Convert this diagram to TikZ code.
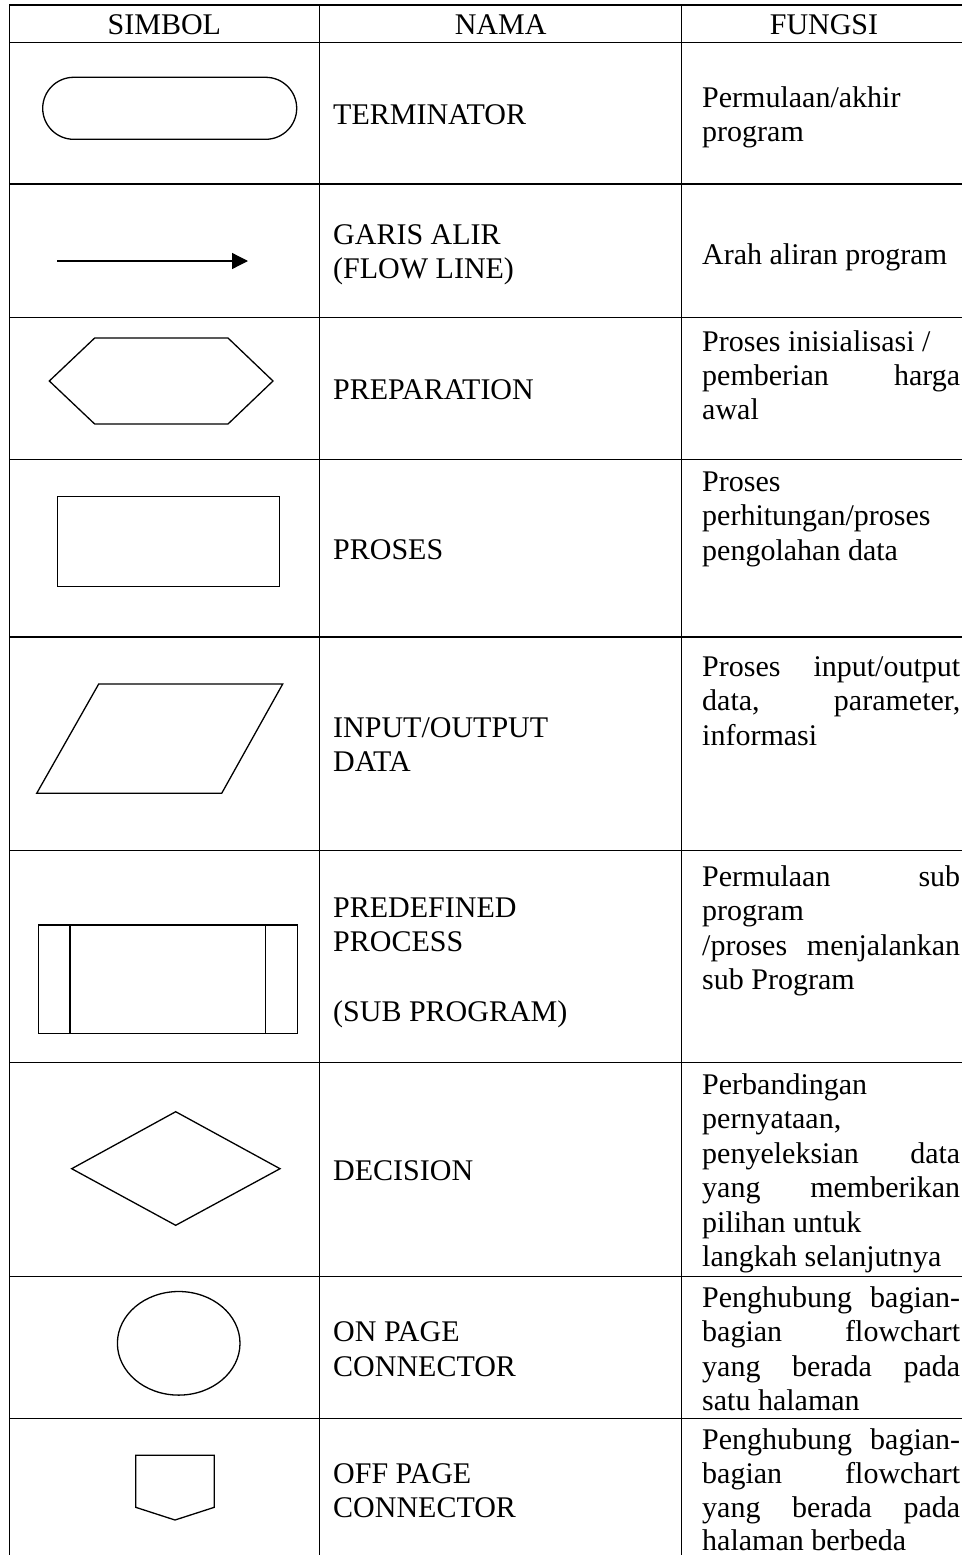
\documentclass[tikz,border=0pt]{standalone}
\usepackage{fontspec}
\setmainfont{Liberation Serif}
\usetikzlibrary{arrows.meta}
\newcommand{\jus}[1]{\makebox[258pt][s]{#1}}
\begin{document}
\begin{tikzpicture}[x=1pt,y=-1pt,
  grid/.style={line width=1.2pt},
  shp/.style={line width=1.3pt},
  txt/.style={font=\fontsize{30}{34.5}\selectfont, inner sep=0pt, anchor=base west},
  hdr/.style={font=\fontsize{30}{34.5}\selectfont, inner sep=0pt, anchor=base}]
\useasboundingbox (0,0) rectangle (962,1555);
% table grid
\foreach \yy in {5,42.3,184,317.3,459.3,637,850.5,1062.5,1276.5,1418.5}
  \draw[grid] (9.3,\yy) -- (962,\yy);
\foreach \xx in {9.3,319.5,681.7}
  \draw[grid] (\xx,5) -- (\xx,1555);
% headers
\node[hdr] (h1) at (164.4,34.3) {SIMBOL};
\node[hdr] (h2) at (500.6,34.3) {NAMA};
\node[hdr] (h3) at (824,34.3) {FUNGSI};
% symbols
\draw[shp, rounded corners=31pt] (42.7,77.3) rectangle (296.7,139.3);
\coordinate (a1) at (57,261);
\coordinate (a2) at (248,261);
\draw[shp, -{Triangle[length=16pt,width=16pt]}] (a1) -- (a2);
\draw[shp] (49.3,381) -- (94.7,338) -- (228,338) -- (273,381) -- (228,424) -- (94.7,424) -- cycle;
\draw[shp] (57.3,496.7) rectangle (279.3,586.7);
\draw[shp] (98.7,684) -- (282.7,684) -- (221.7,793.3) -- (36.7,793.3) -- cycle;
\draw[shp] (38.7,925) rectangle (297.3,1033.3);
\draw[shp] (70,925) -- (70,1033.3);
\draw[shp] (265.7,925) -- (265.7,1033.3);
\draw[shp] (175.7,1111.7) -- (280,1168.7) -- (175.7,1225.3) -- (71.7,1168.7) -- cycle;
\draw[shp] (178.7,1343.3) ellipse [x radius=61.3pt, y radius=51.8pt];
\draw[shp] (135.7,1455.3) -- (214.3,1455.3) -- (214.3,1507.3) -- (175,1520) -- (135.7,1507.3) -- cycle;
% names
\node[txt] (n1) at (333,124) {TERMINATOR};
\node[txt] (n2a) at (333,244) {GARIS ALIR};
\node[txt] (n2b) at (333,278) {(FLOW LINE)};
\node[txt] (n3) at (333,399) {PREPARATION};
\node[txt] (n4) at (333,559) {PROSES};
\node[txt] (n5a) at (333,737) {INPUT/OUTPUT};
\node[txt] (n5b) at (333,771.5) {DATA};
\node[txt] (n6a) at (333,917) {PREDEFINED};
\node[txt] (n6b) at (333,951) {PROCESS};
\node[txt] (n6c) at (333,1021) {(SUB PROGRAM)};
\node[txt] (n7) at (333,1180) {DECISION};
\node[txt] (n8a) at (333,1341) {ON PAGE};
\node[txt] (n8b) at (333,1376) {CONNECTOR};
\node[txt] (n9a) at (333,1483) {OFF PAGE};
\node[txt] (n9b) at (333,1517) {CONNECTOR};
% functions
\node[txt] (f1a) at (702,107) {Permulaan/akhir};
\node[txt] (f1b) at (702,141.5) {program};
\node[txt] (f2) at (702,264) {Arah aliran program};
\node[txt] (f3a) at (702,351) {Proses inisialisasi /};
\node[txt] (f3b) at (702,385) {\jus{pemberian harga}};
\node[txt] (f3c) at (702,419) {awal};
\node[txt] (f4a) at (702,491) {Proses};
\node[txt] (f4b) at (702,525.5) {perhitungan/proses};
\node[txt] (f4c) at (702,560) {pengolahan data};
\node[txt] (f5a) at (702,676) {\jus{Proses input/output}};
\node[txt] (f5b) at (702,710.5) {\jus{data, parameter,}};
\node[txt] (f5c) at (702,745) {informasi};
\node[txt] (f6a) at (702,886) {\jus{Permulaan sub}};
\node[txt] (f6b) at (702,920.5) {program};
\node[txt] (f6c) at (702,955) {\jus{/proses menjalankan}};
\node[txt] (f6d) at (702,989.5) {sub Program};
\node[txt] (f7a) at (702,1094) {Perbandingan};
\node[txt] (f7b) at (702,1128.5) {pernyataan,};
\node[txt] (f7c) at (702,1163) {\jus{penyeleksian data}};
\node[txt] (f7d) at (702,1197.5) {\jus{yang memberikan}};
\node[txt] (f7e) at (702,1232) {pilihan untuk};
\node[txt] (f7f) at (702,1266.5) {langkah selanjutnya};
\node[txt] (f8a) at (702,1307) {\jus{Penghubung bagian-}};
\node[txt] (f8b) at (702,1341.5) {\jus{bagian flowchart}};
\node[txt] (f8c) at (702,1376) {\jus{yang berada pada}};
\node[txt] (f8d) at (702,1410.5) {satu halaman};
\node[txt] (f9a) at (702,1449) {\jus{Penghubung bagian-}};
\node[txt] (f9b) at (702,1483) {\jus{bagian flowchart}};
\node[txt] (f9c) at (702,1517) {\jus{yang berada pada}};
\node[txt] (f9d) at (702,1550) {halaman berbeda};
\end{tikzpicture}
\end{document}
